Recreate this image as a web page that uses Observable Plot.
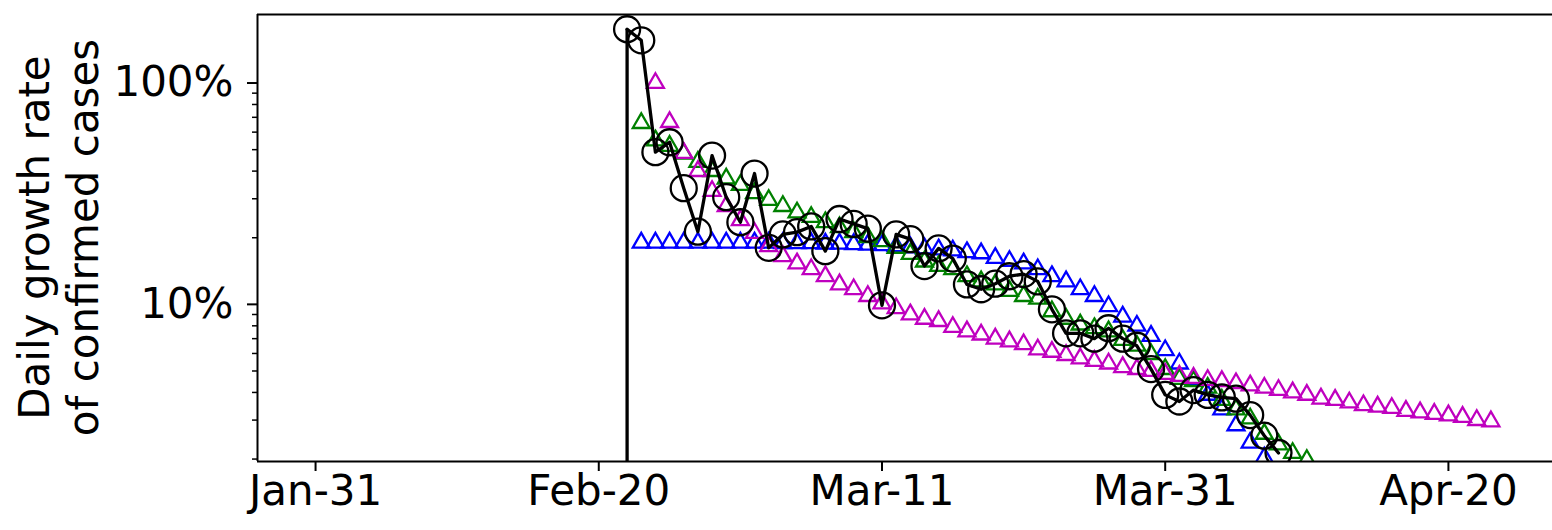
<!DOCTYPE html>
<html>
<head>
<meta charset="utf-8">
<script src="https://cdn.jsdelivr.net/npm/d3@7"></script>
<script src="https://cdn.jsdelivr.net/npm/@observablehq/plot@0.6"></script>
<style>
  html, body { margin: 0; padding: 0; background: #fff; }
  #chart svg { display: block; }
</style>
</head>
<body>
<div id="chart"></div>
<script>
// ---- Data (daily growth rate of confirmed cases, %) ----
const blackStart = "2020-02-22";
const blackValues = [175, 156, 48.7, 54, 33.5, 21.3, 47, 30.5, 23.5, 39,
  18.0, 20.7, 21.2, 22.5, 17.4, 24.3, 23.1, 22.0, 9.9, 20.7,
  19.7, 14.9, 17.9, 16.1, 12.3, 11.7, 12.4, 13.4, 13.7, 12.7,
  9.5, 7.4, 7.4, 7.0, 7.8, 7.0, 6.5, 5.1, 3.9, 3.64,
  4.1, 3.9, 3.8, 3.75, 3.16, 2.55, 2.13];

const greenStart = "2020-02-23";
const greenValues = [65.9, 55, 52, 48, 44, 40, 37, 34.6, 31.8, 29.6,
  27.8, 26, 24.8, 23.5, 22.3, 21.2, 20.1, 19.3, 18.0, 16.9,
  15.6, 14.9, 14.4, 13.4, 12.7, 12.3, 11.5, 10.9, 10.6, 9.3,
  8.6, 8.1, 7.8, 7.55, 6.9, 6.5, 5.95, 5.1, 4.6, 4.5,
  4.2, 3.7, 3.35, 3.05, 2.6, 2.33, 2.13, 1.98];

const blueStart = "2020-02-23";
const blueValues = [19.0, 19.0, 19.0, 19.0, 19.0, 19.0, 19.0, 19.0, 19.0, 19.0,
  18.9, 18.9, 18.9, 18.8, 18.8, 18.7, 18.6, 18.5, 18.3, 18.1,
  17.9, 17.7, 17.5, 17.2, 17.0, 16.2, 15.7, 15.3, 14.4, 13.4,
  12.7, 11.7, 10.9, 9.8, 8.8, 8.0, 7.2, 6.2, 5.4, 4.6,
  3.9, 3.35, 2.84, 2.37, 2.03];

const magentaStart = "2020-02-24";
const magentaValues = [100, 66.6, 48.3, 40, 32.5, 27.8, 24, 21, 18.3, 16.5,
  15.3, 14.4, 13.4, 12.3, 11.7, 10.9, 10.1, 9.6, 9.0, 8.6,
  8.4, 7.9, 7.55, 7.3, 7.0, 6.8, 6.6, 6.25, 6.1, 5.9,
  5.7, 5.55, 5.4, 5.2, 5.1, 5.0, 4.85, 4.75, 4.65, 4.55,
  4.5, 4.4, 4.3, 4.2, 4.1, 4.0, 3.9, 3.75, 3.7, 3.6,
  3.5, 3.45, 3.4, 3.3, 3.25, 3.2, 3.15, 3.1, 3.0, 2.96];

const xTickLabels = ["2020-01-31", "2020-02-20", "2020-03-11", "2020-03-31", "2020-04-20"];
const yMajorTicks = [10, 100];
const yMinorTicks = [2, 3, 4, 5, 6, 7, 8, 9, 20, 30, 40, 50, 60, 70, 80, 90];
const yLabelLines = ["Daily growth rate", "of confirmed cases"];

// axis limits
const DAY = 864e5;
const xRef = Date.parse("2020-01-31T00:00:00Z");
const xDomain = [new Date(xRef - 4.1 * DAY), new Date(xRef + 87.35 * DAY)];
const yDomain = [1.95, 204];

// ---- Build tables ----
function series(start, values) {
  const t0 = Date.parse(start + "T00:00:00Z");
  return values.map((v, i) => ({date: new Date(t0 + i * DAY), value: v}));
}
const black = series(blackStart, blackValues);
const green = series(greenStart, greenValues);
const blue = series(blueStart, blueValues);
const magenta = series(magentaStart, magentaValues);
const xTicks = xTickLabels.map(s => new Date(s + "T00:00:00Z"));

const FS = 42;

const tri = (data, color) => Plot.dot(data, {
  x: "date", y: "value", symbol: "triangle", r: 6.3,
  stroke: color, strokeWidth: 2.3, fill: "none", clip: true
});

const chart = Plot.plot({
  width: 1552,
  height: 530,
  marginLeft: 257,
  marginRight: 0,
  marginTop: 14,
  marginBottom: 69,
  style: {fontFamily: "DejaVu Sans", fontSize: FS + "px", background: "#fff", color: "#000", overflow: "visible"},
  x: {type: "utc", domain: xDomain},
  y: {type: "log", domain: yDomain},
  marks: [
    tri(blue, "#0000ff"),
    tri(green, "#008000"),
    tri(magenta, "#bf00bf"),
    Plot.ruleX([black[0]], {x: "date", y1: () => yDomain[0], y2: "value", stroke: "#000", strokeWidth: 3.3}),
    Plot.line(black, {x: "date", y: "value", stroke: "#000", strokeWidth: 3.3, clip: true}),
    Plot.dot(black, {x: "date", y: "value", r: 13, stroke: "#000", strokeWidth: 2.3, fill: "none", clip: true}),
    Plot.ruleY(yDomain, {stroke: "#000", strokeWidth: 2}),
    Plot.ruleX([xDomain[0]], {stroke: "#000", strokeWidth: 2}),
    Plot.axisX({ticks: xTicks, tickFormat: d3.utcFormat("%b-%d"), tickSize: 10, tickPadding: 4,
      strokeWidth: 2, label: null, fontSize: FS}),
    Plot.axisY({ticks: yMajorTicks, tickFormat: d => d + "%", tickSize: 10, tickPadding: 14,
      strokeWidth: 2, label: null, fontSize: FS}),
    Plot.axisY({ticks: yMinorTicks, tickFormat: () => "", tickSize: 5, strokeWidth: 1.5, label: null})
  ]
});

document.getElementById("chart").appendChild(chart);

// Two-line rotated y-axis label
const svg = d3.select(chart.tagName.toLowerCase() === "svg" ? chart : chart.querySelector("svg"));
const cy = (14 + 461) / 2;
svg.append("g")
  .attr("font-family", "DejaVu Sans")
  .attr("font-size", FS)
  .attr("fill", "#000")
  .attr("text-anchor", "middle")
  .selectAll("text")
  .data(yLabelLines)
  .join("text")
  .attr("transform", (d, i) => `translate(${49 + i * 49},${cy}) rotate(-90)`)
  .text(d => d);
</script>
</body>
</html>
